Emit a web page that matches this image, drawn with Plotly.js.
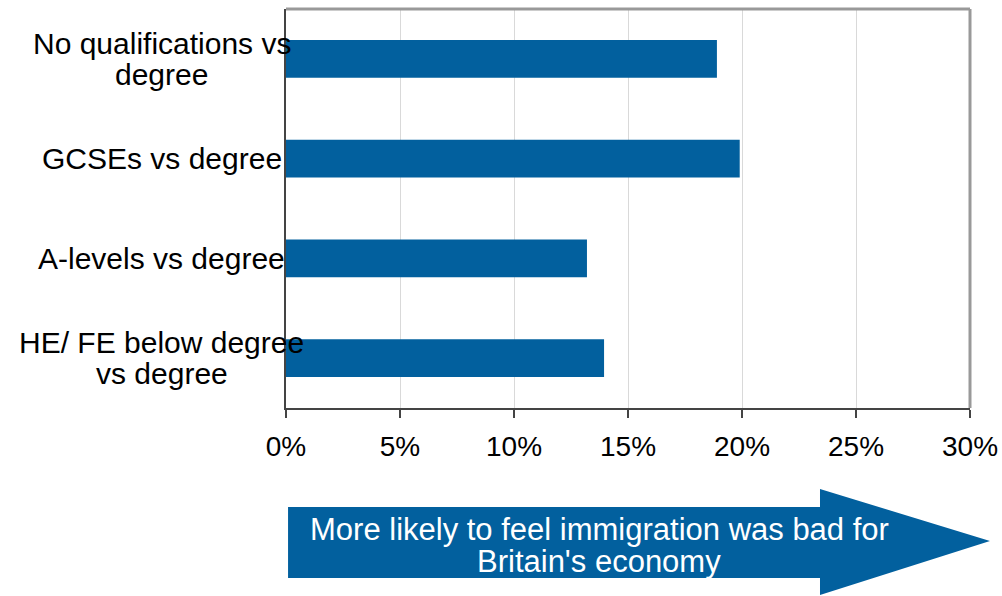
<!DOCTYPE html>
<html>
<head>
<meta charset="utf-8">
<script src="https://cdn.plot.ly/plotly-3.0.1.min.js"></script>
<style>html,body{margin:0;padding:0;background:#fff;}#chart{width:1002px;height:596px;}</style>
</head>
<body>
<div id="chart"></div>
<script>
var categories = ["No qualifications vs<br>degree", "GCSEs vs degree", "A-levels vs degree", "HE/ FE below degree<br>vs degree"];
var values = [18.9, 19.9, 13.2, 13.95];
var tickValues = [0, 5, 10, 15, 20, 25, 30];
var tickLabels = ["0%", "5%", "10%", "15%", "20%", "25%", "30%"];
var arrowLines = ["More likely to feel immigration was bad for", "Britain's economy"];

var barColor = "#02609e";
var fontFam = "Liberation Sans, Arial, sans-serif";

var trace = {
  type: "bar",
  orientation: "h",
  x: values,
  y: categories,
  width: 0.38,
  marker: {color: barColor, line: {width: 0}},
  hoverinfo: "none"
};

var annotations = [];
categories.forEach(function (c) {
  var lines = c.split("<br>");
  var n = lines.length;
  lines.forEach(function (ln, j) {
    annotations.push({
      xref: "paper", yref: "y", x: -0.1813, y: c,
      xanchor: "center", yanchor: "middle",
      yshift: ((n - 1) / 2 - j) * 31,
      text: ln, showarrow: false,
      font: {family: fontFam, size: 30, color: "#000"}
    });
  });
});
arrowLines.forEach(function (ln, j) {
  annotations.push({
    xref: "paper", yref: "paper", x: 0.458, y: -0.345,
    xanchor: "center", yanchor: "middle",
    yshift: (0.5 - j) * 32,
    text: ln, showarrow: false,
    font: {family: fontFam, size: 31, color: "#fff"}
  });
});

var layout = {
  width: 1002, height: 596,
  margin: {l: 286, r: 32, t: 9, b: 188, pad: 0},
  paper_bgcolor: "#fff", plot_bgcolor: "#fff",
  showlegend: false,
  xaxis: {
    range: [0, 30], tickvals: tickValues, ticktext: tickLabels,
    showgrid: true, gridcolor: "#d9d9d9", gridwidth: 1,
    zeroline: false, showline: true, linecolor: "#444", linewidth: 2,
    ticks: "outside", ticklen: 8, tickwidth: 1.5, tickcolor: "#444",
    ticklabelstandoff: 4,
    tickfont: {family: fontFam, size: 28, color: "#000"},
    fixedrange: true
  },
  yaxis: {
    autorange: "reversed", showticklabels: false, ticks: "",
    showgrid: false, zeroline: false, showline: true, linecolor: "#444", linewidth: 2,
    fixedrange: true
  },
  shapes: [
    {type: "line", xref: "paper", yref: "paper", x0: 0, x1: 1, y0: 1, y1: 1, line: {color: "#999", width: 3}},
    {type: "line", xref: "paper", yref: "paper", x0: 1, x1: 1, y0: 0, y1: 1, line: {color: "#999", width: 3}},
    {type: "path", xref: "paper", yref: "paper",
     path: "M 0.003,-0.2481 L 0.7807,-0.2481 L 0.7807,-0.2030 L 1.0292,-0.3333 L 0.7807,-0.4687 L 0.7807,-0.4261 L 0.003,-0.4261 Z",
     fillcolor: barColor, line: {width: 0}}
  ],
  annotations: annotations
};

Plotly.newPlot("chart", [trace], layout, {displayModeBar: false, staticPlot: true});
</script>
</body>
</html>
